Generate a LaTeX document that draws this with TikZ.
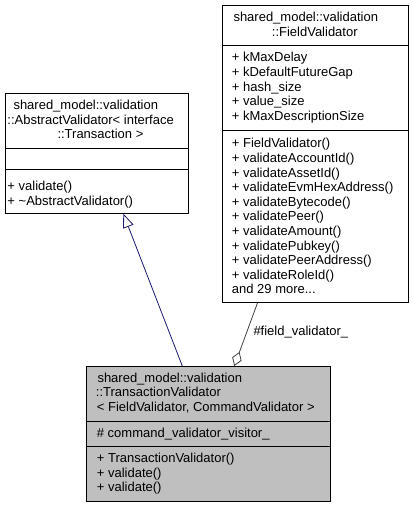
\documentclass[tikz,border=0pt]{standalone}
\usepackage{fontspec}
\setmainfont{Liberation Sans}
\usetikzlibrary{arrows.meta}
\definecolor{midblue}{HTML}{191970}
\definecolor{edgegray}{HTML}{404040}
\definecolor{boxgray}{HTML}{BFBFBF}
\begin{document}
\begin{tikzpicture}[x=1pt,y=-1pt,
  classbox/.style={draw=black, line width=0.9pt, fill=white, inner sep=0pt, anchor=north west},
  sepline/.style={draw=black, line width=0.9pt},
  txt/.style={anchor=base west, inner sep=0pt, font=\fontsize{13}{14.6}\selectfont},
  inherit/.style={draw=midblue, line width=0.8pt, -{Triangle[open, length=14pt, width=11pt]}},
  aggreg/.style={draw=edgegray, line width=0.8pt, -{Diamond[open, length=15pt, width=10pt]}}
]
\useasboundingbox (0,0) rectangle (413,507);

% ---- AbstractValidator box
\node[classbox, minimum width=183.3pt, minimum height=119.4pt] (abs) at (5,93.3) {};
\draw[sepline] (5,148.3) -- (188.3,148.3);
\draw[sepline] (5,169.3) -- (188.3,169.3);
\node[txt] (absh1) at (13.3,109.5) {shared\_model::validation};
\node[txt] (absh2) at (7.3,124.3) {::AbstractValidator< interface};
\node[txt] (absh3) at (57.3,138.8) {::Transaction >};
\node[txt] (absm1) at (7.3,190.5) {+ validate()};
\node[txt] (absm2) at (7.3,205) {+ \textasciitilde AbstractValidator()};

% ---- FieldValidator box
\node[classbox, minimum width=186.5pt, minimum height=297pt] (fv) at (221.5,5) {};
\draw[sepline] (221.5,45.7) -- (408,45.7);
\draw[sepline] (221.5,130) -- (408,130);
\node[txt] (fvh1) at (233.3,21.5) {shared\_model::validation};
\node[txt] (fvh2) at (271.7,36.3) {::FieldValidator};
\foreach \t [count=\i] in {{+ kMaxDelay},{+ kDefaultFutureGap},{+ hash\_size},{+ value\_size},{+ kMaxDescriptionSize}}
  \node[txt] (fva\i) at (231.7,{61.8+14.65*(\i-1)}) {\t};
\foreach \t [count=\i] in {{+ FieldValidator()},{+ validateAccountId()},{+ validateAssetId()},{+ validateEvmHexAddress()},{+ validateBytecode()},{+ validatePeer()},{+ validateAmount()},{+ validatePubkey()},{+ validatePeerAddress()},{+ validateRoleId()}}
  \node[txt] (fvm\i) at (231.7,{147.8+14.6*(\i-1)}) {\t};
\node[txt] (fvmore) at (231.7,293.8) {and 29 more...};

% ---- TransactionValidator box
\node[classbox, fill=boxgray, minimum width=244.3pt, minimum height=134.5pt] (tv) at (85.7,366) {};
\draw[sepline] (85.7,421) -- (330,421);
\draw[sepline] (85.7,446) -- (330,446);
\node[txt] (tvh1) at (97.3,382) {shared\_model::validation};
\node[txt] (tvh2) at (95.7,396.5) {::TransactionValidator};
\node[txt] (tvh3) at (96.7,411) {< FieldValidator, CommandValidator >};
\node[txt] (tva1) at (96.7,437.2) {\# command\_validator\_visitor\_};
\foreach \t [count=\i] in {{+ TransactionValidator()},{+ validate()},{+ validate()}}
  \node[txt] (tvm\i) at (96.7,{462.8+14.4*(\i-1)}) {\t};

% ---- connectors
\coordinate (gS) at ([xshift=96.6pt]tv.north west);
\coordinate (gE) at ([xshift=118.3pt]abs.south west);
\draw[inherit] (gS) -- (gE);

\coordinate (aS) at ([xshift=36pt]fv.south west);
\coordinate (aE) at ([xshift=148.6pt]tv.north west);
\draw[aggreg] (aS) -- (aE);
\node[txt] (agglabel) at (253.3,335.5) {\#field\_validator\_};
\end{tikzpicture}
\end{document}
